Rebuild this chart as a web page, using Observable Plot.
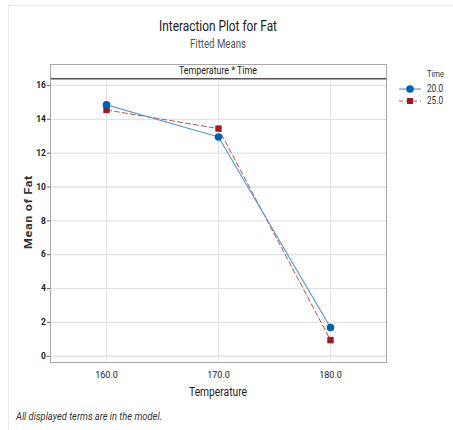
<!DOCTYPE html>
<html><head><meta charset="utf-8">
<script src="https://cdn.jsdelivr.net/npm/d3@7"></script>
<script src="https://cdn.jsdelivr.net/npm/@observablehq/plot@0.6"></script>
<style>
body{margin:0;background:#fff;font-family:Roboto,"Open Sans",sans-serif;}
#wrap{position:relative;width:453px;height:430px;overflow:hidden;}
.abs{position:absolute;white-space:nowrap;line-height:1.15;}
</style></head><body>
<div id="wrap"></div>
<script>
const temperatures = [160, 170, 180];
const times = ["20.0", "25.0"];
const fat20 = [14.85, 12.95, 1.7];
const fat25 = [14.55, 13.45, 0.95];
const yTicks = [0, 2, 4, 6, 8, 10, 12, 14, 16];

const data = [];
temperatures.forEach((t, i) => {
  data.push({temp: t, time: times[0], fat: fat20[i]});
  data.push({temp: t, time: times[1], fat: fat25[i]});
});
const d20 = data.filter(d => d.time === times[0]);
const d25 = data.filter(d => d.time === times[1]);

const wrap = document.getElementById("wrap");
const plot = Plot.plot({
  width: 453, height: 430,
  marginLeft: 50, marginRight: 67, marginTop: 79, marginBottom: 68,
  style: {fontFamily: 'Roboto,"Open Sans",sans-serif', fontSize: "9px", color: "#222", background: "transparent"},
  x: {domain: [155, 185], ticks: temperatures, tickFormat: d3.format(".1f"), label: null, tickSize: 0, tickPadding: 10},
  y: {domain: [-0.37, 16.35], ticks: yTicks, label: null, tickSize: 3, tickPadding: 1},
  marks: [
    Plot.gridX(temperatures, {stroke: "#e3e3e3", strokeOpacity: 1}),
    Plot.gridY(yTicks, {stroke: "#e3e3e3", strokeOpacity: 1, strokeWidth: 1.3}),
    Plot.frame({stroke: "#a8a8a8"}),
    Plot.axisY({ticks: yTicks, tickSize: 3, tickPadding: 1.5, fontWeight: "bold", fontSize: 8.5, stroke: "#666", fill: "#222"}),
    Plot.axisX({ticks: temperatures, tickFormat: d3.format(".1f"), tickSize: 0, tickPadding: 9, fill: "#222"}),
    Plot.line(d25, {x: "temp", y: "fat", stroke: "#c0504d", strokeWidth: 1, strokeDasharray: "5,3"}),
    Plot.line(d20, {x: "temp", y: "fat", stroke: "#5b9bd5", strokeWidth: 1.2}),
    Plot.dot(d25, {x: "temp", y: "fat", symbol: "square", r: 3.6, fill: "#a31a1e", stroke: "none"}),
    Plot.dot(d20, {x: "temp", y: "fat", symbol: "circle", r: 3.8, fill: "#0060b0", stroke: "none"})
  ]
});
plot.style.position = "absolute";
plot.style.left = "0px";
plot.style.top = "0px";
wrap.appendChild(plot);

function add(html, css, fitW, origin){
  const d = document.createElement("div");
  d.className = "abs";
  d.innerHTML = html;
  Object.assign(d.style, css);
  wrap.appendChild(d);
  if (fitW) {
    const w = d.getBoundingClientRect().width;
    d.style.transformOrigin = origin || "center";
    d.style.transform = `scaleX(${fitW / w})`;
  }
  return d;
}
// page border lines
add("", {left:"8px", top:"5px", width:"445px", height:"425px", borderLeft:"1px solid #ececec", borderTop:"1px solid #ececec"});
// titles (centered around x=218)
add("Interaction Plot for Fat", {left:"218px", top:"18px", fontSize:"15.5px", color:"#222", translate:"-50% 0"}, 118);
add("Fitted Means", {left:"218px", top:"38px", fontSize:"12px", color:"#555", translate:"-50% 0"}, 56);
// strip
add("", {left:"50px", top:"64px", width:"335px", height:"13px", border:"1px solid #a8a8a8", borderBottom:"1.5px solid #555", background:"#fff"});
add("Temperature * Time", {left:"218px", top:"65px", fontSize:"10.5px", color:"#222", translate:"-50% 0"}, 78);
// axis labels
add("Temperature", {left:"218px", top:"385px", fontSize:"12.5px", color:"#222", translate:"-50% 0"}, 58);
const yl = add("Mean of Fat", {left:"29px", top:"212px", fontSize:"11px", fontWeight:"bold", color:"#333", letterSpacing:"0.6px", lineHeight:"12px"});
{
  const r = yl.getBoundingClientRect();
  yl.style.left = (29 - r.width / 2) + "px";
  yl.style.top = (212 - r.height / 2) + "px";
  yl.style.transformOrigin = "center";
  yl.style.transform = `rotate(-90deg) scaleX(${74 / r.width})`;
}
// footer
add("All displayed terms are in the model.", {left:"16px", top:"411px", fontSize:"10.5px", fontStyle:"italic", color:"#333"}, 146, "left");
// legend
add("Time", {left:"427px", top:"69px", fontSize:"9.5px", color:"#333"}, 17, "left");
const legSvg = `<svg width="30" height="30" style="display:block">
<line x1="0" y1="6" x2="22" y2="6" stroke="#5b9bd5" stroke-width="1.2"/>
<circle cx="11" cy="6" r="3.8" fill="#0060b0"/>
<line x1="0" y1="18" x2="22" y2="18" stroke="#c0504d" stroke-width="1" stroke-dasharray="4,3"/>
<rect x="8" y="15" width="6" height="6" fill="#a31a1e"/></svg>`;
add(legSvg, {left:"399px", top:"83px", lineHeight:"0"});
add(times[0], {left:"427px", top:"83px", fontSize:"10px", lineHeight:"12px", color:"#333"}, 16, "left");
add(times[1], {left:"427px", top:"95px", fontSize:"10px", lineHeight:"12px", color:"#333"}, 16, "left");
</script>
</body></html>
